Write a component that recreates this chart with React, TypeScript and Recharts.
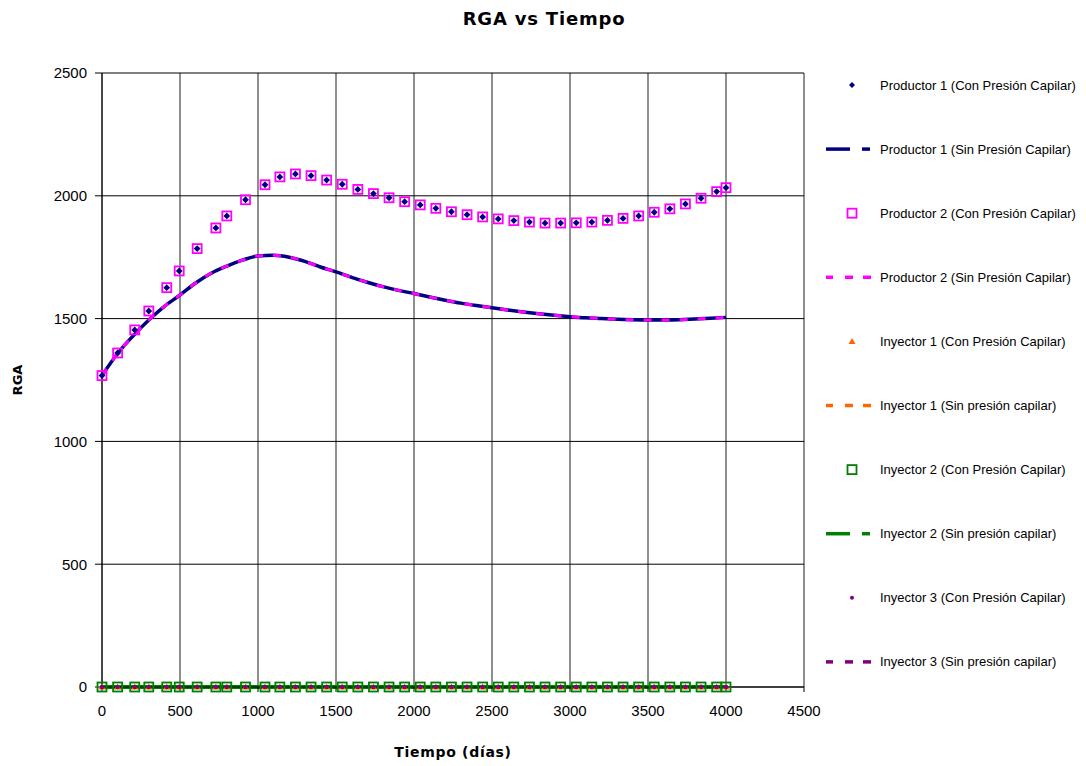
import React from 'react';
import { ComposedChart, Line, Scatter, XAxis, YAxis, CartesianGrid } from 'recharts';

// tiempos (días) de los puntos con presión capilar
const tiempoPuntos = [0, 100, 210, 300, 415, 495, 610, 730, 800, 920, 1045, 1140, 1240, 1340, 1440, 1540, 1640, 1740, 1840, 1940, 2040, 2140, 2240, 2340, 2440, 2540, 2640, 2740, 2840, 2940, 3040, 3140, 3240, 3340, 3440, 3540, 3640, 3740, 3840, 3940, 4000];
const rgaProductor1Con = [1268, 1360, 1454, 1531, 1626, 1694, 1785, 1869, 1918, 1984, 2045, 2077, 2089, 2082, 2064, 2047, 2026, 2009, 1992, 1976, 1963, 1949, 1935, 1923, 1914, 1906, 1899, 1893, 1889, 1889, 1890, 1893, 1900, 1908, 1918, 1933, 1947, 1967, 1990, 2017, 2033];
const rgaProductor2Con = [1268, 1360, 1454, 1531, 1626, 1694, 1785, 1869, 1918, 1984, 2045, 2077, 2089, 2082, 2064, 2047, 2026, 2009, 1992, 1976, 1963, 1949, 1935, 1923, 1914, 1906, 1899, 1893, 1889, 1889, 1890, 1893, 1900, 1908, 1918, 1933, 1947, 1967, 1990, 2017, 2033];
const rgaInyector1Con = [0, 0, 0, 0, 0, 0, 0, 0, 0, 0, 0, 0, 0, 0, 0, 0, 0, 0, 0, 0, 0, 0, 0, 0, 0, 0, 0, 0, 0, 0, 0, 0, 0, 0, 0, 0, 0, 0, 0, 0, 0];
const rgaInyector2Con = [0, 0, 0, 0, 0, 0, 0, 0, 0, 0, 0, 0, 0, 0, 0, 0, 0, 0, 0, 0, 0, 0, 0, 0, 0, 0, 0, 0, 0, 0, 0, 0, 0, 0, 0, 0, 0, 0, 0, 0, 0];
const rgaInyector3Con = [0, 0, 0, 0, 0, 0, 0, 0, 0, 0, 0, 0, 0, 0, 0, 0, 0, 0, 0, 0, 0, 0, 0, 0, 0, 0, 0, 0, 0, 0, 0, 0, 0, 0, 0, 0, 0, 0, 0, 0, 0];

// tiempos (días) de las curvas sin presión capilar
const tiempoLinea = [0, 100, 200, 300, 400, 500, 600, 700, 800, 900, 1000, 1100, 1200, 1300, 1400, 1500, 1600, 1700, 1800, 1900, 2000, 2100, 2200, 2300, 2400, 2500, 2600, 2700, 2800, 2900, 3000, 3100, 3200, 3300, 3400, 3500, 3600, 3700, 3800, 3900, 4000];
const rgaProductor1Sin = [1268, 1358, 1430, 1494, 1550, 1596, 1645, 1685, 1714, 1738, 1755, 1758, 1750, 1733, 1710, 1690, 1668, 1648, 1630, 1615, 1602, 1588, 1575, 1563, 1553, 1544, 1535, 1527, 1520, 1514, 1508, 1503, 1500, 1497, 1495, 1494, 1494, 1495, 1498, 1501, 1505];
const rgaProductor2Sin = [1268, 1358, 1430, 1494, 1550, 1596, 1645, 1685, 1714, 1738, 1755, 1758, 1750, 1733, 1710, 1690, 1668, 1648, 1630, 1615, 1602, 1588, 1575, 1563, 1553, 1544, 1535, 1527, 1520, 1514, 1508, 1503, 1500, 1497, 1495, 1494, 1494, 1495, 1498, 1501, 1505];
const rgaInyector1Sin = [0, 0, 0, 0, 0, 0, 0, 0, 0, 0, 0, 0, 0, 0, 0, 0, 0, 0, 0, 0, 0, 0, 0, 0, 0, 0, 0, 0, 0, 0, 0, 0, 0, 0, 0, 0, 0, 0, 0, 0, 0];
const rgaInyector2Sin = [0, 0, 0, 0, 0, 0, 0, 0, 0, 0, 0, 0, 0, 0, 0, 0, 0, 0, 0, 0, 0, 0, 0, 0, 0, 0, 0, 0, 0, 0, 0, 0, 0, 0, 0, 0, 0, 0, 0, 0, 0];
const rgaInyector3Sin = [0, 0, 0, 0, 0, 0, 0, 0, 0, 0, 0, 0, 0, 0, 0, 0, 0, 0, 0, 0, 0, 0, 0, 0, 0, 0, 0, 0, 0, 0, 0, 0, 0, 0, 0, 0, 0, 0, 0, 0, 0];

const xTicks = [0, 500, 1000, 1500, 2000, 2500, 3000, 3500, 4000, 4500];
const yTicks = [0, 500, 1000, 1500, 2000, 2500];

const seriesNames = [
  'Productor 1 (Con Presión Capilar)',
  'Productor 1 (Sin Presión Capilar)',
  'Productor 2 (Con Presión Capilar)',
  'Productor 2 (Sin Presión Capilar)',
  'Inyector 1 (Con Presión Capilar)',
  'Inyector 1 (Sin presión capilar)',
  'Inyector 2 (Con Presión Capilar)',
  'Inyector 2 (Sin presión capilar)',
  'Inyector 3 (Con Presión Capilar)',
  'Inyector 3 (Sin presión capilar)',
];

const NAVY = '#000080';
const MAGENTA = '#ff00ff';
const ORANGE = '#ff6600';
const GREEN = '#008000';
const PURPLE = '#800080';

const lineData = tiempoLinea.map((t, i) => ({
  t,
  p1: rgaProductor1Sin[i],
  p2: rgaProductor2Sin[i],
  i1: rgaInyector1Sin[i],
  i2: rgaInyector2Sin[i],
  i3: rgaInyector3Sin[i],
}));

const puntos = (vals: number[]) => tiempoPuntos.map((t, i) => ({ t, v: vals[i] }));

const diamond = (cx: number, cy: number, r: number, color: string) => (
  <polygon points={`${cx},${cy - r} ${cx + r},${cy} ${cx},${cy + r} ${cx - r},${cy}`} fill={color} />
);
const square = (cx: number, cy: number, color: string) => (
  <rect x={cx - 4.5} y={cy - 4.5} width={9} height={9} fill="none" stroke={color} strokeWidth={1.8} />
);
const triangle = (cx: number, cy: number) => (
  <polygon points={`${cx},${cy - 3.5} ${cx + 3.5},${cy + 2.5} ${cx - 3.5},${cy + 2.5}`} fill={ORANGE} />
);

const DiamondShape = (p: any) => diamond(p.cx, p.cy, 3.4, NAVY);
const MagentaSquare = (p: any) => square(p.cx, p.cy, MAGENTA);
const GreenSquare = (p: any) => square(p.cx, p.cy, GREEN);
const TriangleShape = (p: any) => triangle(p.cx, p.cy);
const DotShape = (p: any) => <circle cx={p.cx} cy={p.cy} r={2.3} fill={PURPLE} />;

const font = '"Liberation Sans", Arial, sans-serif';

const LegendBox = () => {
  const rowY = (i: number) => 25 + i * 64.1;
  const longDash = (y: number, c: string) => (
    <g stroke={c} strokeWidth={3.5}>
      <line x1={6} x2={30} y1={y} y2={y} />
      <line x1={42} x2={50} y1={y} y2={y} />
    </g>
  );
  const dashes = (y: number, c: string) => (
    <g stroke={c} strokeWidth={3.5}>
      <line x1={6} x2={13} y1={y} y2={y} />
      <line x1={25} x2={33} y1={y} y2={y} />
      <line x1={43} x2={51} y1={y} y2={y} />
    </g>
  );
  const icons = [
    (y: number) => diamond(32, y, 3, NAVY),
    (y: number) => longDash(y, NAVY),
    (y: number) => square(32, y, MAGENTA),
    (y: number) => dashes(y, MAGENTA),
    (y: number) => triangle(32, y),
    (y: number) => dashes(y, ORANGE),
    (y: number) => square(32, y, GREEN),
    (y: number) => longDash(y, GREEN),
    (y: number) => <circle cx={32} cy={y} r={2} fill={PURPLE} />,
    (y: number) => dashes(y, PURPLE),
  ];
  return (
    <svg width={266} height={640} style={{ position: 'absolute', left: 820, top: 60 }}>
      {seriesNames.map((name, i) => (
        <g key={name}>
          {icons[i](rowY(i))}
          <text x={60} y={rowY(i) + 4.5} fontSize={13} fontFamily={font} fill="#000">
            {name}
          </text>
        </g>
      ))}
    </svg>
  );
};

export default function App() {
  return (
    <div style={{ position: 'absolute', left: 0, top: 0, width: 1086, height: 766, background: '#fff' }}>
      <div
        style={{
          position: 'absolute', left: 0, top: 9, width: 1088, textAlign: 'center',
          font: 'bold 18px "DejaVu Sans", Verdana, sans-serif', lineHeight: '20px', letterSpacing: 0.8,
        }}
      >
        RGA vs Tiempo
      </div>
      <ComposedChart width={1086} height={766} data={lineData} margin={{ top: 73, right: 282, bottom: 0, left: 0 }}>
        <CartesianGrid horizontal={false} stroke="#6a6a6a" strokeWidth={1.5} />
        <CartesianGrid vertical={false} stroke="#000" strokeWidth={1} />
        <XAxis
          type="number"
          dataKey="t"
          domain={[0, 4500]}
          ticks={xTicks}
          height={79}
          tickSize={5}
          tickMargin={13}
          stroke="#000"
          tick={{ fill: '#000', fontSize: 15, fontFamily: font }}
        />
        <YAxis
          type="number"
          domain={[0, 2500]}
          ticks={yTicks}
          width={102}
          tickSize={7}
          tickMargin={8}
          stroke="#000"
          tick={{ fill: '#000', fontSize: 15, fontFamily: font }}
        />
        <Line dataKey="i1" stroke={ORANGE} strokeWidth={3} strokeDasharray="8 10" dot={false} activeDot={false} isAnimationActive={false} />
        <Line dataKey="i3" stroke={PURPLE} strokeWidth={3} strokeDasharray="8 10" dot={false} activeDot={false} isAnimationActive={false} />
        <Line dataKey="i2" stroke={GREEN} strokeWidth={4} dot={false} activeDot={false} isAnimationActive={false} />
        <Line type="monotone" dataKey="p1" stroke={NAVY} strokeWidth={3.5} dot={false} activeDot={false} isAnimationActive={false} />
        <Line type="monotone" dataKey="p2" stroke={MAGENTA} strokeWidth={3} strokeDasharray="8 10" dot={false} activeDot={false} isAnimationActive={false} />
        <Scatter data={puntos(rgaProductor2Con)} dataKey="v" shape={MagentaSquare} isAnimationActive={false} />
        <Scatter data={puntos(rgaProductor1Con)} dataKey="v" shape={DiamondShape} isAnimationActive={false} />
        <Scatter data={puntos(rgaInyector2Con)} dataKey="v" shape={GreenSquare} isAnimationActive={false} />
        <Scatter data={puntos(rgaInyector1Con)} dataKey="v" shape={TriangleShape} isAnimationActive={false} />
        <Scatter data={puntos(rgaInyector3Con)} dataKey="v" shape={DotShape} isAnimationActive={false} />
      </ComposedChart>
      <div
        style={{
          position: 'absolute', left: 253, top: 744, width: 400, textAlign: 'center',
          font: 'bold 14px "DejaVu Sans", Verdana, sans-serif', lineHeight: '16px', letterSpacing: 0.7,
        }}
      >
        Tiempo (días)
      </div>
      <div
        style={{
          position: 'absolute', left: -32, top: 372, width: 100, height: 16, textAlign: 'center',
          font: 'bold 13px "DejaVu Sans", Verdana, sans-serif', lineHeight: '16px',
          transform: 'rotate(-90deg)',
        }}
      >
        RGA
      </div>
      <LegendBox />
    </div>
  );
}
